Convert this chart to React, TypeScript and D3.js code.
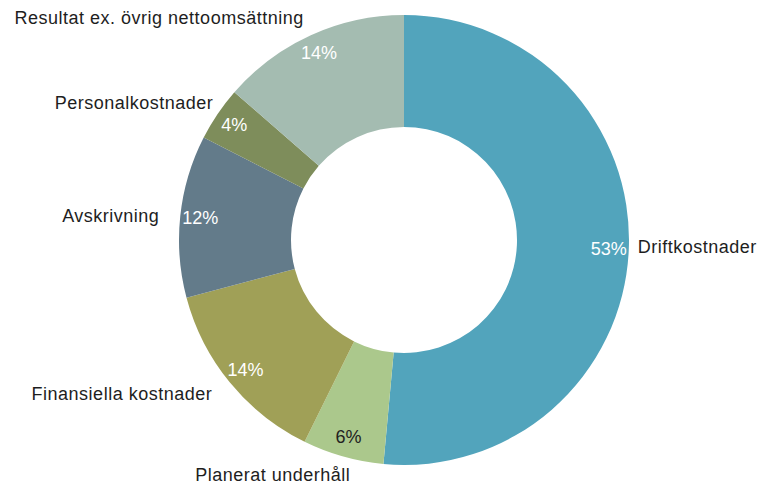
import React from "react";
import * as d3 from "d3";

const categories = [
  "Driftkostnader",
  "Planerat underhåll",
  "Finansiella kostnader",
  "Avskrivning",
  "Personalkostnader",
  "Resultat ex. övrig nettoomsättning",
];
const values = [53, 6, 14, 12, 4, 14];
const colors = ["#52a4bc", "#abc88c", "#a0a057", "#637b8a", "#7e8d5b", "#a4bcb1"];
const pctColors = ["#ffffff", "#222222", "#ffffff", "#ffffff", "#ffffff", "#ffffff"];

// layout for outside category labels: anchor and fine offsets
const labelAnchor = ["start", "end", "end", "end", "end", "end"];
const labelOffset: [number, number][] = [
  [-1, 2],
  [10, 15],
  [-10, 11],
  [-11, 7],
  [4, 1],
  [-3, -2],
];

const W = 761;
const H = 488;
const cx = 404;
const cy = 240;
const rOuter = 225;
const rInner = 113;
const rPct = 205;
const rLabel = 235;

export default function App() {
  const data = categories.map((c, i) => ({ c, v: values[i], i }));
  const pie = d3
    .pie<{ c: string; v: number; i: number }>()
    .sort(null)
    .value((d) => d.v)
    .startAngle(0)
    .endAngle(2 * Math.PI);
  const arcs = pie(data);
  const arc = d3
    .arc<d3.PieArcDatum<{ c: string; v: number; i: number }>>()
    .innerRadius(rInner)
    .outerRadius(rOuter);
  const pt = (a: number, r: number) => [r * Math.sin(a), -r * Math.cos(a)];
  const font = "'Liberation Sans', Arial, sans-serif";

  return (
    <svg
      width={W}
      height={H}
      style={{ position: "absolute", left: 0, top: 0, background: "#fff" }}
    >
      <g transform={`translate(${cx},${cy})`}>
        {arcs.map((a, i) => (
          <path key={i} d={arc(a) || ""} fill={colors[i]} />
        ))}
        {arcs.map((a, i) => {
          const m = (a.startAngle + a.endAngle) / 2;
          const [x, y] = pt(m, rPct);
          return (
            <text
              key={"p" + i}
              x={x}
              y={y}
              textAnchor="middle"
              dominantBaseline="central"
              fontFamily={font}
              fontSize={18}
              fill={pctColors[i]}
            >
              {values[i]}%
            </text>
          );
        })}
        {arcs.map((a, i) => {
          const m = (a.startAngle + a.endAngle) / 2;
          const [x, y] = pt(m, rLabel);
          return (
            <text
              key={"l" + i}
              x={x + labelOffset[i][0]}
              y={y + labelOffset[i][1]}
              textAnchor={labelAnchor[i]}
              fontFamily={font}
              fontSize={18}
              letterSpacing={0.5}
              fill="#1e1e1e"
            >
              {categories[i]}
            </text>
          );
        })}
      </g>
    </svg>
  );
}
